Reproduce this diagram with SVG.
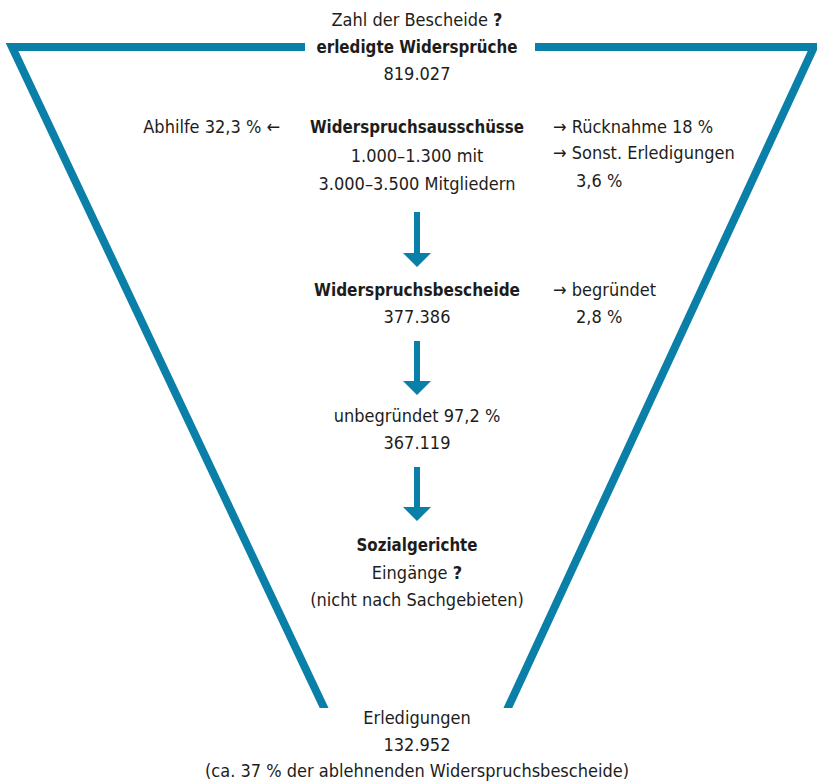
<svg xmlns="http://www.w3.org/2000/svg" width="817" height="782" viewBox="0 0 817 782">
<defs>
<style>
text{font-family:"Liberation Sans Narrow","DejaVu Sans Condensed","Liberation Sans",sans-serif;font-stretch:condensed;font-size:18px;fill:#1d1d1b}
.c{text-anchor:middle}
.b{font-weight:bold}
.funnel{fill:none;stroke:#0a7fa8;stroke-width:8;stroke-linejoin:miter;stroke-miterlimit:10}
.arr{fill:#0a7fa8}
</style>
<clipPath id="cut"><rect x="0" y="0" width="817" height="708"/></clipPath>
</defs>
<rect width="817" height="782" fill="#ffffff"/>
<g id="funnel" clip-path="url(#cut)">
<path class="funnel" d="M305,47 H12 L326,712"/>
<path class="funnel" d="M535,47 H814 L506,712"/>
</g>
<g id="connectors">
<path class="arr" d="M414,212 H420 V253 H431 L417,267 L403,253 H414 Z"/>
<path class="arr" d="M414,341 H420 V381 H431 L417,395 L403,381 H414 Z"/>
<path class="arr" d="M414,467 H420 V507 H431 L417,521 L403,507 H414 Z"/>
</g>
<g id="top">
<text class="c" x="417" y="26">Zahl der Bescheide <tspan class="b">?</tspan></text>
<text class="c b" x="417" y="53" textLength="201" lengthAdjust="spacingAndGlyphs">erledigte Widersprüche</text>
<text class="c" x="417" y="80">819.027</text>
</g>
<g id="abhilfe">
<text x="280" y="133" text-anchor="end">Abhilfe 32,3 % ←</text>
</g>
<g id="ausschuesse">
<text class="c b" x="417" y="133" textLength="214" lengthAdjust="spacingAndGlyphs">Widerspruchsausschüsse</text>
<text class="c" x="417" y="162">1.000–1.300 mit</text>
<text class="c" x="417" y="190">3.000–3.500 Mitgliedern</text>
</g>
<g id="ruecknahme">
<text x="553" y="133">→ Rücknahme 18 %</text>
<text x="553" y="159">→ Sonst. Erledigungen</text>
<text x="576" y="187">3,6 %</text>
</g>
<g id="bescheide">
<text class="c b" x="417" y="296" textLength="206" lengthAdjust="spacingAndGlyphs">Widerspruchsbescheide</text>
<text class="c" x="417" y="323">377.386</text>
</g>
<g id="begruendet">
<text x="553" y="296">→ begründet</text>
<text x="576" y="323">2,8 %</text>
</g>
<g id="unbegruendet">
<text class="c" x="417" y="422">unbegründet 97,2 %</text>
<text class="c" x="417" y="449">367.119</text>
</g>
<g id="sozialgerichte">
<text class="c b" x="417" y="551" textLength="121" lengthAdjust="spacingAndGlyphs">Sozialgerichte</text>
<text class="c" x="417" y="579">Eingänge <tspan class="b">?</tspan></text>
<text class="c" x="417" y="606">(nicht nach Sachgebieten)</text>
</g>
<g id="erledigungen">
<text class="c" x="417" y="724">Erledigungen</text>
<text class="c" x="417" y="751">132.952</text>
<text class="c" x="417" y="777">(ca. 37 % der ablehnenden Widerspruchsbescheide)</text>
</g>
</svg>
